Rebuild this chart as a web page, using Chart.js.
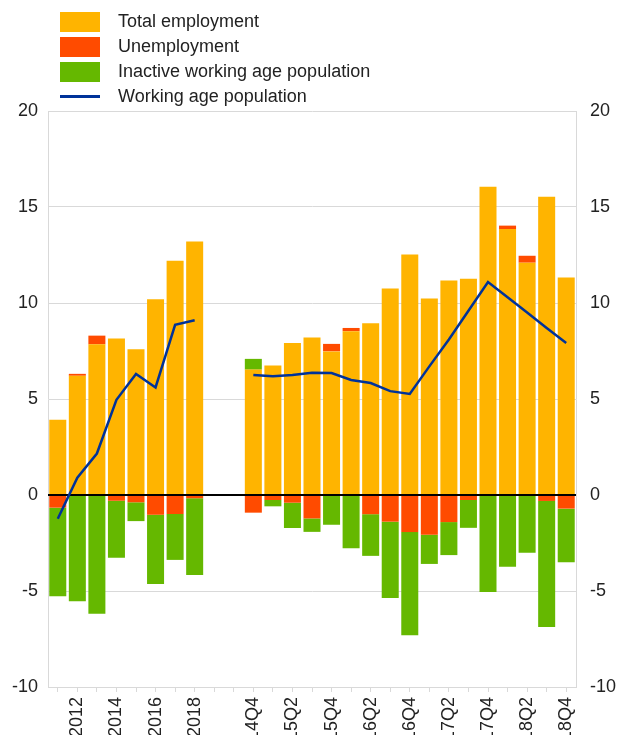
<!DOCTYPE HTML>
<html>

<head>
  <title>Working age population</title>
  <meta charset="utf-8">
  <script src="https://cdn.jsdelivr.net/npm/chart.js"></script>
  <style>
    body { margin: 0; background: #fff; font-family: "Liberation Sans", Arial, sans-serif; }
    #wrap { position: relative; width: 618px; height: 735px; }
    #legend { position: absolute; left: 60px; top: 9px; }
    .item { height: 25px; display: flex; align-items: center; font-size: 18px; color: #222; }
    .box { width: 40px; height: 20px; margin-right: 18px; }
    .dash { width: 40px; height: 3px; margin: 0 18px 0 0; }
  </style>
</head>

<body>
  <div id="wrap">
    <div id="legend"></div>
    <canvas id="myChart"></canvas>
  </div>

  <script type="text/javascript">

    // categories: 8 annual, 2 blank spacers, 17 quarterly
    var categories = ["2011", "2012", "2013", "2014", "2015", "2016", "2017", "2018", "", " ",
      "2014Q4", "2015Q1", "2015Q2", "2015Q3", "2015Q4", "2016Q1", "2016Q2", "2016Q3", "2016Q4",
      "2017Q1", "2017Q2", "2017Q3", "2017Q4", "2018Q1", "2018Q2", "2018Q3", "2018Q4"];
    var tickLabels = ["2012", "2014", "2016", "2018", "2014Q4", "2015Q2", "2015Q4", "2016Q2",
      "2016Q4", "2017Q2", "2017Q4", "2018Q2", "2018Q4"];

    var employment = [3.92, 6.21, 7.85, 8.15, 7.59, 10.2, 12.2, 13.2, null, null,
      6.53, 6.75, 7.92, 8.2, 7.48, 8.53, 8.95, 10.76, 12.53,
      10.23, 11.17, 11.26, 16.05, 13.85, 12.1, 15.53, 11.33];
    var unemployment = [-0.66, 0.1, 0.45, -0.3, -0.38, -1.03, -0.99, -0.17, null, null,
      -0.92, -0.26, -0.4, -1.22, 0.39, 0.17, -1.0, -1.39, -1.93,
      -2.07, -1.41, -0.26, 0, 0.18, 0.36, -0.31, -0.71];
    var inactive = [-4.61, -5.53, -6.18, -2.97, -0.98, -3.6, -2.39, -4.0, null, null,
      0.56, -0.33, -1.32, -0.7, -1.55, -2.77, -2.17, -3.97, -5.38,
      -1.52, -1.72, -1.45, -5.05, -3.74, -3.01, -6.57, -2.79];
    var workingAge = [-1.24, 0.9, 2.16, 4.96, 6.3, 5.6, 8.86, 9.1, null, null,
      6.25, 6.18, 6.25, 6.37, 6.35, 5.99, 5.83, 5.41, 5.26,
      6.7, 8.1, 9.6, 11.09, 10.3, 9.5, 8.7, 7.92];

    var colors = {
      orange: '#FFB400',
      red: '#FF4B00',
      green: '#65B800',
      navy: '#003299',
      grid: '#d9d9d9'
    };

    var tickFont = { family: '"Liberation Sans", Arial, sans-serif', size: 18 };

    // black zero line, above the bars but below the line
    var zeroLinePlugin = {
      id: 'zeroLinePlugin',
      beforeDatasetDraw: function (chart, args) {
        if (args.meta.type !== 'line') return;
        var c = chart.ctx;
        var y0 = chart.scales.y.getPixelForValue(0);
        c.save();
        c.beginPath();
        c.moveTo(chart.chartArea.left, y0);
        c.lineTo(chart.chartArea.right, y0);
        c.lineWidth = 2;
        c.strokeStyle = '#000000';
        c.stroke();
        c.restore();
      }
    };

    const ctx = document.getElementById('myChart');

    var myChart = new Chart(ctx, {
      type: 'bar',
      data: {
        labels: categories,
        datasets: [
          { label: 'Total employment', data: employment, backgroundColor: colors.orange, order: 1 },
          { label: 'Unemployment', data: unemployment, backgroundColor: colors.red, order: 1 },
          { label: 'Inactive working age population', data: inactive, backgroundColor: colors.green, order: 1 },
          {
            type: 'line', label: 'Working age population', data: workingAge, yAxisID: 'y2',
            borderColor: colors.navy, borderWidth: 2.5, pointRadius: 0, tension: 0,
            spanGaps: false, order: 0
          }
        ]
      },
      options: {
        responsive: true,
        maintainAspectRatio: false,
        animation: false,
        layout: { padding: { top: 111, left: 0, right: 0, bottom: 0 } },
        datasets: {
          bar: { barPercentage: 0.87, categoryPercentage: 1.0, borderWidth: 0 }
        },
        plugins: {
          legend: { display: false },
          tooltip: { enabled: false }
        },
        scales: {
          x: {
            stacked: true,
            grid: { display: true, drawOnChartArea: false, offset: false, tickLength: 5, color: colors.grid },
            border: { display: true, color: colors.grid },
            ticks: {
              autoSkip: false, maxRotation: 90, minRotation: 90, padding: 5,
              color: '#222', font: tickFont,
              callback: function (v, i) {
                var lab = categories[i];
                return tickLabels.indexOf(lab) >= 0 ? lab : '';
              }
            },
            afterFit: function (scale) { scale.height = 48; }
          },
          y: {
            stacked: true,
            position: 'left',
            min: -10, max: 20,
            grid: { color: colors.grid, drawTicks: false },
            border: { display: true, color: colors.grid },
            ticks: { stepSize: 5, padding: 10, color: '#222', font: tickFont },
            afterFit: function (scale) { scale.width = 48; }
          },
          y2: {
            position: 'right',
            min: -10, max: 20,
            grid: { display: false, drawTicks: false },
            border: { display: true, color: colors.grid },
            ticks: { stepSize: 5, padding: 14, color: '#222', font: tickFont },
            afterFit: function (scale) { scale.width = 42; }
          }
        }
      },
      plugins: [zeroLinePlugin]
    });

    // html legend, one entry per line
    var legend = document.getElementById('legend');
    myChart.data.datasets.forEach(function (ds) {
      var row = document.createElement('div');
      row.className = 'item';
      var mark = document.createElement('span');
      if (ds.type === 'line') {
        mark.className = 'dash';
        mark.style.background = ds.borderColor;
      } else {
        mark.className = 'box';
        mark.style.background = ds.backgroundColor;
      }
      row.appendChild(mark);
      row.appendChild(document.createTextNode(ds.label));
      legend.appendChild(row);
    });

  </script>
</body>

</html>
